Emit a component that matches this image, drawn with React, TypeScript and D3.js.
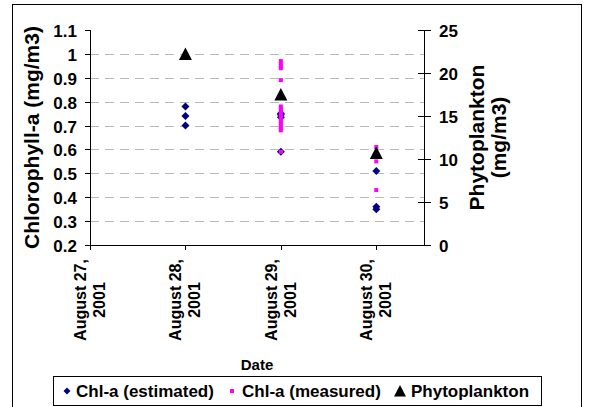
import React from "react";
import * as d3 from "d3";

// ---- data ----
const tickDates = ["2001-08-27", "2001-08-28", "2001-08-29", "2001-08-30"];
const tickLabels = [
  ["August 27,", "2001"],
  ["August 28,", "2001"],
  ["August 29,", "2001"],
  ["August 30,", "2001"],
];
const leftTicks = [0.2, 0.3, 0.4, 0.5, 0.6, 0.7, 0.8, 0.9, 1, 1.1];
const rightTicks = [0, 5, 10, 15, 20, 25];

const estDates = [
  "2001-08-28", "2001-08-28", "2001-08-28",
  "2001-08-29", "2001-08-29", "2001-08-29", "2001-08-29",
  "2001-08-30", "2001-08-30", "2001-08-30",
];
const estValues = [0.78, 0.74, 0.7, 0.75, 0.745, 0.735, 0.59, 0.51, 0.36, 0.35];

const measDates = [
  "2001-08-29", "2001-08-29", "2001-08-29", "2001-08-29", "2001-08-29",
  "2001-08-29", "2001-08-29", "2001-08-29", "2001-08-29", "2001-08-29",
  "2001-08-29", "2001-08-29", "2001-08-29", "2001-08-29", "2001-08-29",
  "2001-08-29", "2001-08-29",
  "2001-08-30", "2001-08-30", "2001-08-30",
];
const measValues = [
  0.97, 0.96, 0.95, 0.94, 0.89,
  0.78, 0.77, 0.76, 0.75, 0.74,
  0.73, 0.72, 0.71, 0.7, 0.69,
  0.68, 0.59,
  0.61, 0.55, 0.43,
];

const phytoDates = ["2001-08-28", "2001-08-29", "2001-08-30"];
const phytoValues = [22.2, 17.5, 10.7];

const legendLabels = ["Chl-a (estimated)", "Chl-a (measured)", "Phytoplankton"];

// ---- layout ----
const W = 589;
const H = 407;
const PL = 90, PR = 424, PT = 30, PB = 245;
const FONT = "'Liberation Sans', Arial, Helvetica, sans-serif";
const NAVY = "#000080";
const MAGENTA = "#FF00FF";

const parse = (s: string) => new Date(s + "T00:00:00");

const x = d3
  .scaleTime()
  .domain([parse("2001-08-27"), new Date("2001-08-30T12:00:00")])
  .range([PL, PR]);
const yL = d3.scaleLinear().domain([0.2, 1.1]).range([PB, PT]);
const yR = d3.scaleLinear().domain([0, 25]).range([PB, PT]);

const diamond = (r: number) => `M0,${-r}L${r},0L0,${r}L${-r},0Z`;
const triangle = (w: number, h: number) =>
  `M0,${-h / 2 - 0.5}L${w / 2},${h / 2}L${-w / 2},${h / 2}Z`;

export default function App() {
  return (
    <div style={{ position: "absolute", left: 0, top: 0 }}>
      <svg width={W} height={H} style={{ display: "block", background: "#fff" }}>
        <rect x={0} y={0} width={W} height={H} fill="#fff" />
        {/* outer frame */}
        <rect x={12.5} y={4.5} width={569} height={420} fill="none" stroke="#000" strokeWidth={1} />

        {/* gridlines */}
        {leftTicks
          .filter((t) => t > 0.25 && t < 1.05)
          .map((t) => (
            <line
              key={"g" + t}
              x1={PL}
              x2={PR}
              y1={Math.round(yL(t)) + 0.5}
              y2={Math.round(yL(t)) + 0.5}
              stroke="#b8b8b8"
              strokeWidth={1}
              strokeDasharray="9,6"
            />
          ))}

        {/* axes lines */}
        <line x1={PL + 0.5} x2={PL + 0.5} y1={PT} y2={PB} stroke="#000" />
        <line x1={PR + 0.5} x2={PR + 0.5} y1={PT} y2={PB} stroke="#000" />
        <line x1={PL} x2={PR + 1} y1={PB + 0.5} y2={PB + 0.5} stroke="#000" />

        {/* left ticks */}
        {leftTicks.map((t) => {
          const yy = Math.round(yL(t)) + 0.5;
          return (
            <g key={"lt" + t}>
              <line x1={PL - 5} x2={PL} y1={yy} y2={yy} stroke="#000" />
              <text
                x={PL - 13}
                y={yy}
                dy="0.36em"
                textAnchor="end"
                fontFamily={FONT}
                fontWeight="bold"
                fontSize={17}
              >
                {d3.format("~g")(t)}
              </text>
            </g>
          );
        })}

        {/* right ticks */}
        {rightTicks.map((t) => {
          const yy = Math.round(yR(t)) + 0.5;
          return (
            <g key={"rt" + t}>
              <line x1={PR - 6} x2={PR + 7} y1={yy} y2={yy} stroke="#000" />
              <text
                x={PR + 15}
                y={yy}
                dy="0.36em"
                textAnchor="start"
                fontFamily={FONT}
                fontWeight="bold"
                fontSize={17}
              >
                {t}
              </text>
            </g>
          );
        })}

        {/* bottom ticks and labels */}
        {tickDates.map((d, i) => {
          const xx = Math.round(x(parse(d))) + 0.5;
          return (
            <g key={"bt" + d}>
              <line x1={xx} x2={xx} y1={PB} y2={PB + 5} stroke="#000" />
              <g transform={`translate(${xx - 1},300) rotate(-90)`}>
                {tickLabels[i].map((ln, j) => (
                  <text
                    key={j}
                    x={0}
                    y={(j - 0.5) * 19}
                    dy="0.36em"
                    textAnchor="middle"
                    fontFamily={FONT}
                    fontWeight="bold"
                    fontSize={16}
                  >
                    {ln}
                  </text>
                ))}
              </g>
            </g>
          );
        })}

        {/* estimated */}
        {estValues.map((v, i) => (
          <path
            key={"e" + i}
            d={diamond(4)}
            transform={`translate(${x(parse(estDates[i]))},${yL(v)})`}
            fill={NAVY}
          />
        ))}

        {/* measured */}
        {measValues.map((v, i) => (
          <rect
            key={"m" + i}
            x={x(parse(measDates[i])) - 2}
            y={yL(v) - 2}
            width={4}
            height={4}
            fill={MAGENTA}
          />
        ))}

        {/* phytoplankton */}
        {phytoValues.map((v, i) => (
          <path
            key={"p" + i}
            d={triangle(13, 12)}
            transform={`translate(${x(parse(phytoDates[i]))},${yR(v)})`}
            fill="#000"
          />
        ))}

        {/* axis titles */}
        <g transform={`translate(31,${(PT + PB) / 2}) rotate(-90)`}>
          <text
            textAnchor="middle"
            dy="0.36em"
            fontFamily={FONT}
            fontWeight="bold"
            fontSize={21}
          >
            Chlorophyll-a (mg/m3)
          </text>
        </g>
        <g transform={`translate(487,${(PT + PB) / 2}) rotate(-90)`}>
          {["Phytoplankton", "(mg/m3)"].map((ln, j) => (
            <text
              key={j}
              y={(j - 0.5) * 22}
              dy="0.36em"
              textAnchor="middle"
              fontFamily={FONT}
              fontWeight="bold"
              fontSize={21}
            >
              {ln}
            </text>
          ))}
        </g>
        <text
          x={(PL + PR) / 2}
          y={365}
          dy="0.36em"
          textAnchor="middle"
          fontFamily={FONT}
          fontWeight="bold"
          fontSize={15}
        >
          Date
        </text>

        {/* legend */}
        <rect x={53.5} y={376.5} width={488} height={29} fill="#fff" stroke="#000" />
        <path d={diamond(3.5)} transform="translate(67,391)" fill={NAVY} />
        <text x={76} y={391} dy="0.36em" fontFamily={FONT} fontWeight="bold" fontSize={17}>
          {legendLabels[0]}
        </text>
        <rect x={230} y={389} width={4} height={4} fill={MAGENTA} />
        <text x={242} y={391} dy="0.36em" fontFamily={FONT} fontWeight="bold" fontSize={17}>
          {legendLabels[1]}
        </text>
        <path d={triangle(12, 11)} transform="translate(400,391)" fill="#000" />
        <text x={411} y={391} dy="0.36em" fontFamily={FONT} fontWeight="bold" fontSize={17}>
          {legendLabels[2]}
        </text>
      </svg>
    </div>
  );
}
